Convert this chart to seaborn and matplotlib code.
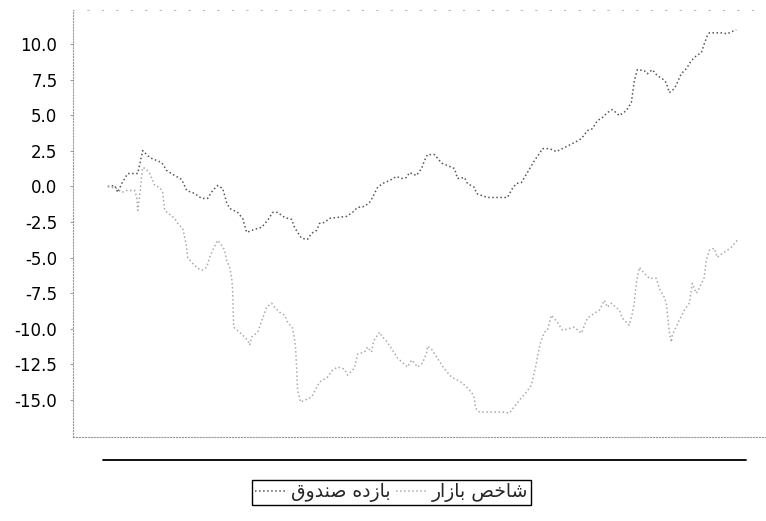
import numpy as np
import pandas as pd
import matplotlib
matplotlib.use('Agg')
import matplotlib.pyplot as plt
import seaborn as sns
from matplotlib.lines import Line2D
from matplotlib.ticker import FormatStrFormatter

# === Data (day index, cumulative return %) ===
fund_label = 'بازده صندوق'
market_label = 'شاخص بازار'

fund_day = [0, 7, 10, 14, 20, 30, 35, 42, 54, 59, 67, 74, 79, 87, 94, 100, 105, 110, 115,
            119, 122, 130, 135, 139, 147, 154, 160, 165, 170, 177, 184, 187, 190, 194, 200,
            204, 209, 212, 217, 222, 230, 239, 245, 250, 257, 262, 265, 270, 275, 282, 289,
            294, 299, 302, 309, 314, 317, 320, 327, 332, 335, 340, 347, 350, 357, 360, 367,
            369, 374, 380, 400, 405, 409, 414, 420, 427, 432, 435, 442, 449, 457, 467, 474,
            480, 485, 490, 495, 500, 505, 512, 519, 524, 527, 530, 537, 540, 545, 550, 555,
            559, 562, 567, 570, 574, 579, 584, 589, 594, 597, 600, 602, 615, 620, 624, 629]
fund_ret = [0.00, 0.07, -0.42, 0.21, 0.91, 0.91, 2.52, 2.03, 1.68, 1.12, 0.77, 0.49, -0.28,
            -0.49, -0.84, -0.84, -0.28, 0.07, -0.14, -1.12, -1.54, -1.82, -2.24, -3.22, -3.01,
            -2.87, -2.38, -1.82, -1.82, -2.17, -2.31, -2.87, -3.22, -3.64, -3.71, -3.29, -3.08,
            -2.59, -2.52, -2.24, -2.17, -2.10, -1.82, -1.47, -1.40, -1.12, -0.77, -0.07, 0.21,
            0.42, 0.70, 0.56, 0.63, 0.98, 0.77, 1.26, 1.82, 2.24, 2.24, 1.82, 1.61, 1.47, 1.26,
            0.56, 0.63, 0.21, -0.07, -0.49, -0.63, -0.77, -0.77, -0.14, 0.21, 0.28, 0.98, 1.82,
            2.31, 2.66, 2.66, 2.45, 2.73, 3.08, 3.36, 3.92, 4.06, 4.62, 4.84, 5.19, 5.40, 4.98,
            5.33, 5.89, 7.43, 8.20, 8.13, 7.92, 8.20, 7.78, 7.57, 7.29, 6.59, 6.87, 7.29, 7.92,
            8.27, 8.83, 9.18, 9.39, 10.02, 10.58, 10.79, 10.79, 10.72, 10.86, 11.00]

market_day = [0, 9, 14, 19, 27, 29, 30, 32, 34, 35, 38, 42, 47, 52, 55, 57, 67, 70, 75, 77,
              79, 80, 84, 89, 94, 99, 102, 105, 110, 114, 117, 119, 122, 124, 125, 126, 132,
              140, 142, 144, 150, 159, 164, 167, 172, 177, 180, 185, 187, 188, 189, 190, 193,
              204, 212, 220, 225, 230, 237, 240, 247, 248, 250, 257, 260, 264, 266, 272, 275,
              279, 285, 290, 300, 304, 307, 310, 315, 319, 320, 324, 337, 344, 355, 364, 367,
              368, 372, 384, 395, 402, 412, 419, 424, 429, 430, 433, 437, 440, 444, 450, 455,
              467, 474, 480, 487, 492, 497, 500, 504, 512, 515, 522, 525, 527, 529, 532, 537,
              542, 549, 552, 557, 559, 560, 562, 564, 565, 572, 577, 582, 585, 589, 592, 597,
              599, 602, 607, 610, 615, 620, 624, 630]
market_ret = [0.00, -0.14, -0.42, -0.28, -0.28, -0.77, -1.68, -0.63, 0.77, 1.33, 1.26, 0.91,
              0.07, -0.07, -0.42, -1.68, -2.24, -2.59, -2.94, -3.57, -4.27, -4.98, -5.33, -5.68,
              -5.89, -5.68, -4.98, -4.48, -3.78, -4.13, -4.48, -5.19, -5.68, -6.38, -7.29, -9.88,
              -10.23, -10.79, -11.14, -10.58, -10.23, -8.48, -8.20, -8.48, -8.83, -9.04, -9.53,
              -9.95, -10.79, -11.35, -12.68, -14.30, -15.14, -14.79, -13.73, -13.38, -12.89,
              -12.68, -12.82, -13.24, -12.75, -12.40, -11.77, -11.63, -11.28, -11.63, -10.86,
              -10.23, -10.58, -10.86, -11.49, -12.05, -12.68, -12.19, -12.40, -12.68, -12.40,
              -11.70, -11.21, -11.42, -12.82, -13.38, -13.80, -14.44, -14.86, -15.56, -15.84,
              -15.84, -15.84, -15.91, -15.00, -14.44, -13.95, -12.40, -11.98, -11.00, -10.23,
              -10.09, -9.04, -9.53, -10.09, -9.88, -10.30, -9.25, -8.90, -8.69, -7.99, -8.48,
              -8.20, -8.69, -9.25, -9.74, -8.90, -8.13, -6.80, -5.68, -6.10, -6.45, -6.45,
              -7.15, -7.78, -8.20, -8.90, -10.23, -10.93, -10.44, -9.39, -8.69, -8.20, -6.80,
              -7.50, -7.15, -6.38, -5.19, -4.48, -4.34, -4.98, -4.70, -4.48, -4.27, -3.78]

y_ticks = [-15.0, -12.5, -10.0, -7.5, -5.0, -2.5, 0.0, 2.5, 5.0, 7.5, 10.0]


# matplotlib does no Arabic shaping / bidi, so join the letters by hand
FORMS = {  # isolated, final, initial, medial
    'ا': ('\uFE8D', '\uFE8E', None, None),
    'ب': ('\uFE8F', '\uFE90', '\uFE91', '\uFE92'),
    'خ': ('\uFEA5', '\uFEA6', '\uFEA7', '\uFEA8'),
    'د': ('\uFEA9', '\uFEAA', None, None),
    'ر': ('\uFEAD', '\uFEAE', None, None),
    'ز': ('\uFEAF', '\uFEB0', None, None),
    'ش': ('\uFEB5', '\uFEB6', '\uFEB7', '\uFEB8'),
    'ص': ('\uFEB9', '\uFEBA', '\uFEBB', '\uFEBC'),
    'ق': ('\uFED5', '\uFED6', '\uFED7', '\uFED8'),
    'ن': ('\uFEE5', '\uFEE6', '\uFEE7', '\uFEE8'),
    'ه': ('\uFEE9', '\uFEEA', '\uFEEB', '\uFEEC'),
    'و': ('\uFEED', '\uFEEE', None, None),
}


def shape_rtl(text):
    out = []
    for i, ch in enumerate(text):
        if ch not in FORMS:
            out.append(ch)
            continue
        prev = text[i - 1] if i > 0 else ''
        nxt = text[i + 1] if i + 1 < len(text) else ''
        join_prev = prev in FORMS and FORMS[prev][2] is not None
        join_next = FORMS[ch][2] is not None and nxt in FORMS
        iso, fin, ini, med = FORMS[ch]
        if join_prev and join_next:
            out.append(med)
        elif join_prev:
            out.append(fin)
        elif join_next:
            out.append(ini)
        else:
            out.append(iso)
    return ''.join(out)[::-1]


df = pd.concat([
    pd.DataFrame({'day': fund_day, 'ret': fund_ret, 'series': fund_label}),
    pd.DataFrame({'day': market_day, 'ret': market_ret, 'series': market_label}),
])

# === Plot ===
sns.set_style('white')
plt.rcParams['font.family'] = ['DejaVu Sans']

fig = plt.figure(figsize=(7.66, 5.21), dpi=100)
ax = fig.add_axes([0.095, 0.161, 0.904, 0.82])

sns.lineplot(data=df, x='day', y='ret', hue='series', estimator=None, sort=False,
             palette={fund_label: '#555555', market_label: '#aaaaaa'},
             linewidth=1.1, linestyle=':', ax=ax)

ax.set_xlim(-35, 658)
ax.set_ylim(-17.6, 12.4)
ax.set_yticks(y_ticks)
ax.yaxis.set_major_formatter(FormatStrFormatter('%.1f'))
ax.set_xticks([])
ax.set_xlabel('')
ax.set_ylabel('')
ax.tick_params(axis='y', left=True, length=2, width=0.6, color='#888888',
               pad=9, labelsize=12, labelcolor='black')
for side in ['left', 'bottom']:
    ax.spines[side].set_linestyle(':')
    ax.spines[side].set_color('#999999')
    ax.spines[side].set_linewidth(0.8)
ax.spines['top'].set_linestyle((0, (1, 12)))
ax.spines['top'].set_color('#bbbbbb')
ax.spines['top'].set_linewidth(0.8)
ax.spines['right'].set_visible(False)

# solid rule under the plot
fig.add_artist(Line2D([0.134, 0.974], [0.117, 0.117], color='black', linewidth=1.3))

# === Legend ===
handles, labels = ax.get_legend_handles_labels()
ax.get_legend().remove()
fig.legend(handles, [shape_rtl(l) for l in labels], loc='center',
           bbox_to_anchor=(0.511, 0.055), ncol=2, fontsize=13.5, frameon=True,
           fancybox=False, edgecolor='black', framealpha=1, handlelength=1.7,
           handletextpad=0.2, columnspacing=0.3, borderpad=0.15, borderaxespad=0)

fig.savefig('out.png', dpi=100)
